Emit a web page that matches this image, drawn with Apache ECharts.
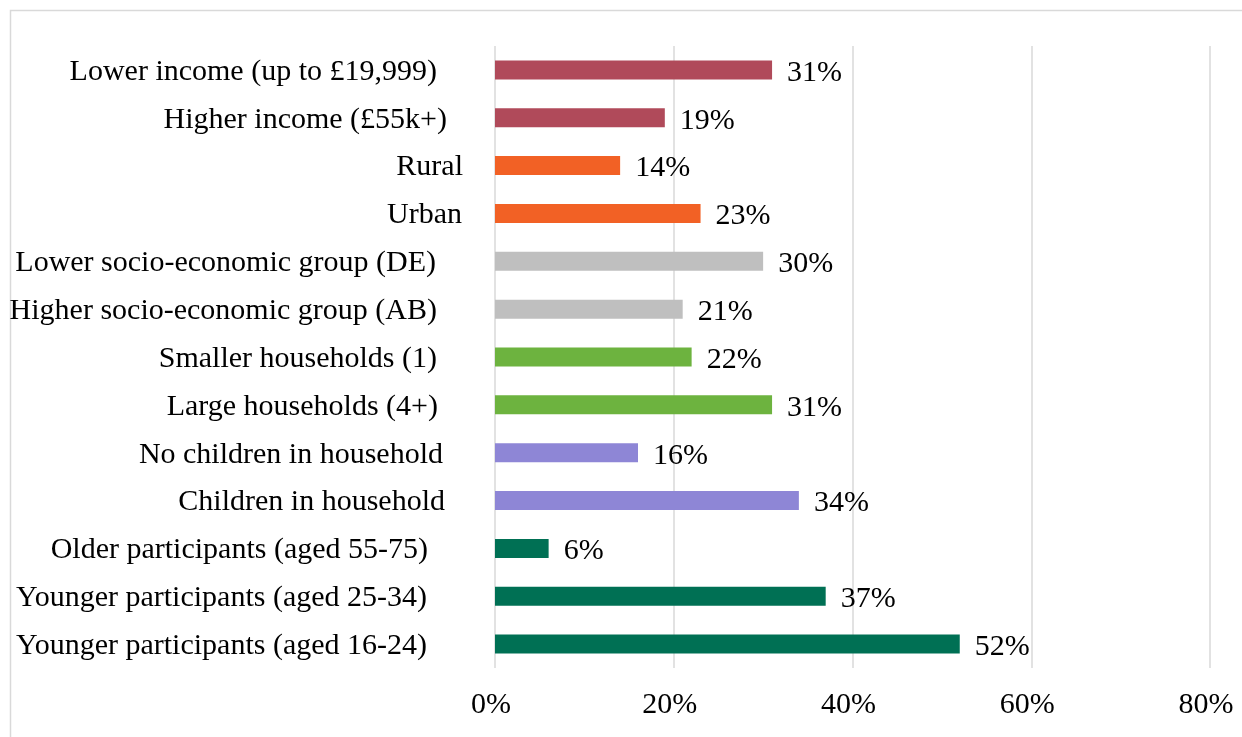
<!DOCTYPE html>
<html>
<head>
<meta charset="utf-8">
<script src="https://cdn.jsdelivr.net/npm/echarts@6/dist/echarts.min.js"></script>
<style>
html,body{margin:0;padding:0;background:#fff;}
#chart{width:1242px;height:737px;}
</style>
</head>
<body>
<div id="chart"></div>
<script>
var categories = [
  'Lower income (up to £19,999)',
  'Higher income (£55k+)',
  'Rural',
  'Urban',
  'Lower socio-economic group (DE)',
  'Higher socio-economic group (AB)',
  'Smaller households (1)',
  'Large households (4+)',
  'No children in household',
  'Children in household',
  'Older participants (aged 55-75)',
  'Younger participants (aged 25-34)',
  'Younger participants (aged 16-24)'
];
var values = [31, 19, 14, 23, 30, 21, 22, 31, 16, 34, 6, 37, 52];
var xTicks = [0, 20, 40, 60, 80];

// styling (not data)
var groupColors = ['#B04A5A','#B04A5A','#F26125','#F26125','#BFBFBF','#BFBFBF','#6DB33F','#6DB33F','#8E86D6','#8E86D6','#007054','#007054','#007054'];
var labelTrailGap = [26, 16, 0, 1, 27, 26, 26, 25, 20, 18, 35, 36, 36];

var FONT = '"Liberation Serif", "Times New Roman", serif';
var FS = 30;

var rich = {};
labelTrailGap.forEach(function (g, i) {
  rich['p' + i] = { fontFamily: FONT, fontSize: FS, color: '#000', padding: [4, g, 0, 0] };
});

var chart = echarts.init(document.getElementById('chart'), null, { renderer: 'canvas' });
chart.setOption({
  animation: false,
  backgroundColor: '#fff',
  graphic: [{
    type: 'rect',
    shape: { x: 10.5, y: 10.5, width: 1400, height: 900 },
    style: { fill: 'none', stroke: '#d9d9d9', lineWidth: 1.5 },
    silent: true
  }],
  grid: { left: 495, right: 32, top: 46, bottom: 69, containLabel: false },
  xAxis: {
    type: 'value',
    min: xTicks[0],
    max: xTicks[xTicks.length - 1],
    interval: xTicks[1] - xTicks[0],
    axisLine: { show: false },
    axisTick: { show: false },
    splitLine: { show: true, lineStyle: { color: '#d9d9d9', width: 1.5 } },
    axisLabel: {
      formatter: '{value}%',
      fontFamily: FONT,
      fontSize: FS,
      color: '#000',
      margin: 22,
      padding: [0, 8, 0, 0]
    }
  },
  yAxis: {
    type: 'category',
    data: categories,
    inverse: true,
    axisLine: { show: false },
    axisTick: { show: false },
    splitLine: { show: false },
    axisLabel: {
      margin: 32,
      fontFamily: FONT,
      fontSize: FS,
      color: '#000',
      formatter: function (v, i) { return '{p' + i + '|' + v + '}'; },
      rich: rich
    }
  },
  series: [{
    type: 'bar',
    data: values.map(function (v, i) { return { value: v, itemStyle: { color: groupColors[i] } }; }),
    barWidth: 19,
    label: {
      show: true,
      position: 'right',
      distance: 15,
      offset: [0, 3],
      formatter: '{c}%',
      fontFamily: FONT,
      fontSize: FS,
      color: '#000'
    }
  }]
});
</script>
</body>
</html>
